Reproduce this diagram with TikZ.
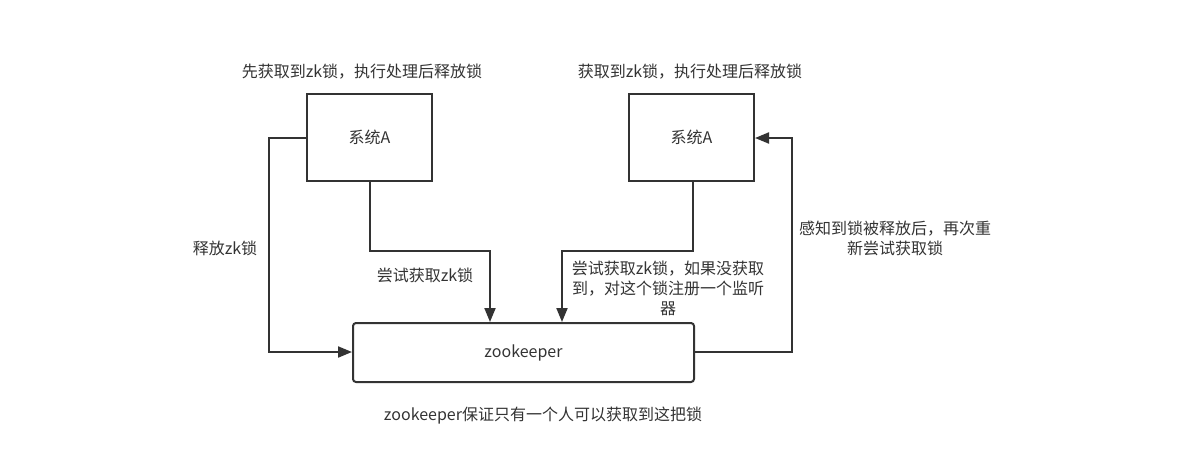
\documentclass[tikz,border=0pt]{standalone}
\usepackage{fontspec}
\setmainfont{Noto Sans CJK SC}
\usetikzlibrary{arrows.meta}
\definecolor{ink}{HTML}{333333}
\begin{document}
\begin{tikzpicture}[x=1pt,y=-1pt,
  font=\fontsize{16}{20}\selectfont,
  every node/.style={text=ink},
  sysbox/.style={draw=ink,line width=2pt,minimum width=125pt,minimum height=87pt,inner sep=0pt},
  zkbox/.style={draw=ink,line width=2pt,rounded corners=3pt,minimum width=341pt,minimum height=59pt,inner sep=0pt},
  wire/.style={draw=ink,line width=2pt},
  arr/.style={wire,-{Triangle[length=14pt,width=11pt]}},
  lbl/.style={align=center,inner sep=0pt}]
  \useasboundingbox (0,0) rectangle (1200,456);

  % boxes
  \node[sysbox] (a1) at (369.5,137.5) {系统A};
  \node[sysbox] (a2) at (691.5,137.5) {系统A};
  \node[zkbox]  (zk) at (523.5,352.5) {zookeeper};

  % bend points of the connectors
  \coordinate (l1) at (269,138);
  \coordinate (l2) at (269,352);
  \coordinate (m1) at (370,251);
  \coordinate (m2) at (490,251);
  \coordinate (n1) at (693,251);
  \coordinate (n2) at (562,251);
  \coordinate (r1) at (792,352);
  \coordinate (r2) at (792,138);

  % connectors
  \draw[arr] (a1.west |- l1) -- (l1) -- (l2) -- (zk.west |- l2);
  \draw[arr] (a1.south -| m1) -- (m1) -- (m2) -- (zk.north -| m2);
  \draw[arr] (a2.south -| n1) -- (n1) -- (n2) -- (zk.north -| n2);
  \draw[arr] (zk.east |- r1) -- (r1) -- (r2) -- (a2.east |- r2);

  % labels
  \node[lbl] (t1) at (362,72) {先获取到zk锁，执行处理后释放锁};
  \node[lbl] (t2) at (690,72) {获取到zk锁，执行处理后释放锁};
  \node[lbl] (t3) at (225,248) {释放zk锁};
  \node[lbl] (t4) at (425,275) {尝试获取zk锁};
  \node[lbl] (t5) at (668,288) {尝试获取zk锁，如果没获取\\到，对这个锁注册一个监听\\器};
  \node[lbl] (t6) at (895,238) {感知到锁被释放后，再次重\\新尝试获取锁};
  \node[lbl] (t7) at (543,416) {zookeeper保证只有一个人可以获取到这把锁};
\end{tikzpicture}
\end{document}
